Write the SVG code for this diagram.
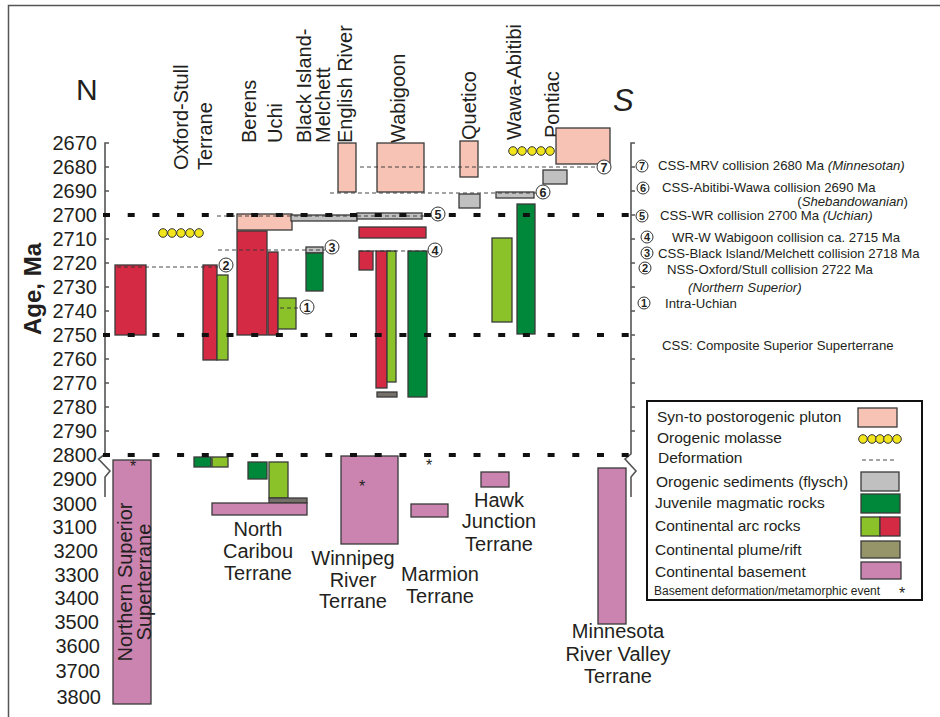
<svg xmlns="http://www.w3.org/2000/svg" width="940" height="717" viewBox="0 0 940 717">
<style>
text{font-family:"Liberation Sans",Arial,sans-serif;fill:#231f20}
.ax{fill:none;stroke:#555;stroke-width:1.6}
.tk{font-size:20px;text-anchor:end}
.lbl{font-size:20px}
.mid{text-anchor:middle}
.b{stroke:#3a3a3a;stroke-width:1.3}
.pl{fill:#F6C3B5}
.rd{fill:#D42A44}
.lg{fill:#8BC22A}
.dg{fill:#00883A}
.fl{fill:#C0C0C0}
.pr{fill:#76706B}
.bs{fill:#CB84AF}
.mo{fill:#F2E51C;stroke:#333;stroke-width:1}
.thick{stroke:#111;stroke-width:4;stroke-dasharray:7 17.7;fill:none}
.def{stroke:#333;stroke-width:0.9;stroke-dasharray:4 3;fill:none}
.cn{fill:#fff;stroke:#333;stroke-width:1}
.cnt{font-size:12.5px;font-weight:bold;text-anchor:middle}
.ann{font-size:13.2px}
.it{font-style:italic}
.leg{font-size:15.5px}
.star{font-size:16px;text-anchor:middle}
</style>

<g id="frame">
<path d="M8.5,717 V5.5 H940" fill="none" stroke="#555" stroke-width="1.5"/>
</g>

<g id="axes">
<path class="ax" d="M109,143 H105 V454 L98.5,459 L110,471 L105,477 V497"/>
<path class="ax" d="M105,167h4M105,191h4M105,215h4M105,239h4M105,263h4M105,287h4M105,311h4M105,335h4M105,359h4M105,383h4M105,407h4M105,431h4"/>
<path class="ax" stroke="#333" d="M635,143 H631 V454 L625,459 L636,471 L631,477 V497"/>
<path class="ax" stroke="#333" d="M631,167h4M631,191h4M631,215h4M631,239h4M631,263h4M631,287h4M631,311h4M631,335h4M631,359h4M631,383h4M631,407h4M631,431h4"/>
<text class="tk" x="97" y="150">2670</text>
<text class="tk" x="97" y="174">2680</text>
<text class="tk" x="97" y="198">2690</text>
<text class="tk" x="97" y="222">2700</text>
<text class="tk" x="97" y="246">2710</text>
<text class="tk" x="97" y="270">2720</text>
<text class="tk" x="97" y="294">2730</text>
<text class="tk" x="97" y="318">2740</text>
<text class="tk" x="97" y="342">2750</text>
<text class="tk" x="97" y="366">2760</text>
<text class="tk" x="97" y="390">2770</text>
<text class="tk" x="97" y="414">2780</text>
<text class="tk" x="97" y="438">2790</text>
<text class="tk" x="97" y="462">2800</text>
<text class="tk" x="97" y="486">2900</text>
<text class="tk" x="97" y="511">3000</text>
<text class="tk" x="97" y="534">3100</text>
<text class="tk" x="98" y="558">3200</text>
<text class="tk" x="99" y="582">3300</text>
<text class="tk" x="99" y="605">3400</text>
<text class="tk" x="99" y="629">3500</text>
<text class="tk" x="100" y="653">3600</text>
<text class="tk" x="100" y="678">3700</text>
<text class="tk" x="101" y="704">3800</text>
<text transform="translate(41,289) rotate(-90)" style="font-size:24px;font-weight:bold;text-anchor:middle">Age, Ma</text>
<text x="76" y="100" style="font-size:30px">N</text>
<text x="613" y="111" style="font-size:31px;font-style:italic">S</text>
</g>

<g id="column-labels" class="lbl">
<text transform="translate(188,170) rotate(-90)">Oxford-Stull</text>
<text transform="translate(212,170) rotate(-90)">Terrane</text>
<text transform="translate(256,143) rotate(-90)">Berens</text>
<text transform="translate(282,143) rotate(-90)">Uchi</text>
<text transform="translate(311,143) rotate(-90)">Black Island-</text>
<text transform="translate(330,143) rotate(-90)">Melchett</text>
<text transform="translate(352,143) rotate(-90)">English River</text>
<text transform="translate(405,143) rotate(-90)">Wabigoon</text>
<text transform="translate(476,140) rotate(-90)">Quetico</text>
<text transform="translate(521,140) rotate(-90)">Wawa-Abitibi</text>
<text transform="translate(559,138) rotate(-90)">Pontiac</text>
</g>

<g id="northern-superior">
<rect class="rd b" x="115" y="265" width="31" height="70"/>
<rect class="bs b" x="113" y="460" width="38" height="244"/>
<text class="star" x="133" y="472">*</text>
<text class="lbl mid" transform="translate(132,582) rotate(-90)">Northern Superior</text>
<text class="lbl mid" transform="translate(151,582) rotate(-90)">Superterrane</text>
</g>

<g id="oxford-stull">
<circle class="mo" cx="163" cy="233" r="4.3"/>
<circle class="mo" cx="172" cy="233" r="4.3"/>
<circle class="mo" cx="181" cy="233" r="4.3"/>
<circle class="mo" cx="190" cy="233" r="4.3"/>
<circle class="mo" cx="199" cy="233" r="4.3"/>
<rect class="rd b" x="203" y="265" width="14" height="95"/>
<rect class="lg b" x="217" y="275" width="11" height="85"/>
<rect class="dg b" x="194" y="457" width="17" height="10"/>
<rect class="lg b" x="212" y="457" width="16" height="10"/>
</g>

<g id="berens-uchi">
<rect class="pl b" x="237" y="214" width="55" height="16"/>
<rect class="rd b" x="237" y="231" width="30" height="104"/>
<rect class="rd b" x="268" y="252" width="10" height="83"/>
<rect class="lg b" x="278" y="298" width="18" height="31"/>
</g>

<g id="north-caribou">
<rect class="dg b" x="248" y="462" width="19" height="17"/>
<rect class="lg b" x="269" y="462" width="19" height="36"/>
<rect class="pr b" x="269" y="498" width="38" height="5"/>
<rect class="bs b" x="212" y="503" width="95" height="12"/>
<text class="lbl mid" x="258" y="536">North</text>
<text class="lbl mid" x="258" y="558">Caribou</text>
<text class="lbl mid" x="258" y="580">Terrane</text>
</g>

<g id="black-island-melchett">
<rect class="fl b" x="291" y="215" width="66" height="6"/>
<rect class="fl b" x="306" y="247" width="17" height="6"/>
<rect class="dg b" x="306" y="253" width="17" height="38"/>
</g>

<g id="english-river">
<rect class="pl b" x="338" y="143" width="18" height="49"/>
<rect class="fl b" x="357" y="213" width="65" height="6"/>
</g>

<g id="wabigoon">
<rect class="pl b" x="377" y="143" width="47" height="49"/>
<rect class="rd b" x="359" y="227" width="67" height="11"/>
<rect class="rd b" x="359" y="251" width="14" height="19"/>
<rect class="rd b" x="376" y="251" width="11" height="137"/>
<rect class="lg b" x="387" y="251" width="9" height="131"/>
<rect class="pr b" x="377" y="392" width="20" height="5"/>
<rect class="dg b" x="408" y="251" width="19" height="146"/>
</g>

<g id="winnipeg-river">
<rect class="bs b" x="341" y="456" width="57" height="88"/>
<text class="star" x="362" y="492">*</text>
<text class="lbl mid" x="353" y="565">Winnipeg</text>
<text class="lbl mid" x="353" y="587">River</text>
<text class="lbl mid" x="353" y="608">Terrane</text>
</g>

<g id="marmion">
<text class="star" x="429" y="471">*</text>
<rect class="bs b" x="411" y="504" width="37" height="13"/>
<text class="lbl mid" x="440" y="581">Marmion</text>
<text class="lbl mid" x="440" y="603">Terrane</text>
</g>

<g id="quetico">
<rect class="pl b" x="460" y="141" width="18" height="36"/>
<rect class="fl b" x="459" y="194" width="21" height="14"/>
</g>

<g id="wawa-abitibi">
<circle class="mo" cx="513" cy="151" r="4.3"/>
<circle class="mo" cx="522" cy="151" r="4.3"/>
<circle class="mo" cx="532" cy="151" r="4.3"/>
<circle class="mo" cx="541" cy="151" r="4.3"/>
<circle class="mo" cx="550" cy="151" r="4.3"/>
<rect class="fl b" x="496" y="192" width="38" height="6"/>
<rect class="lg b" x="492" y="238" width="20" height="84"/>
<rect class="dg b" x="517" y="204" width="18" height="130"/>
</g>

<g id="hawk-junction">
<rect class="bs b" x="481" y="472" width="28" height="15"/>
<text class="lbl mid" x="499" y="507">Hawk</text>
<text class="lbl mid" x="499" y="528">Junction</text>
<text class="lbl mid" x="499" y="551">Terrane</text>
</g>

<g id="pontiac">
<rect class="pl b" x="556" y="128" width="54" height="36"/>
<rect class="fl b" x="543" y="170" width="24" height="14"/>
</g>

<g id="minnesota-river-valley">
<rect class="bs b" x="598" y="468" width="28" height="156"/>
<text class="lbl mid" x="618" y="638">Minnesota</text>
<text class="lbl mid" x="618" y="661">River Valley</text>
<text class="lbl mid" x="618" y="683">Terrane</text>
</g>

<g id="connectors">
<path class="def" d="M117,267 H218"/>
<path class="def" d="M280,308 H300"/>
<path class="def" d="M218,250 H325"/>
<path class="def" d="M359,251 H428"/>
<path class="def" d="M217,216 H431"/>
<path class="def" d="M330,193 H536"/>
<path class="def" d="M360,167 H597"/>
<path class="thick" d="M103,215 H630"/>
<path class="thick" d="M103,335 H630"/>
<path class="thick" d="M103,455 H630"/>
</g>

<g id="event-markers">
<circle class="cn" cx="226" cy="265" r="7"/><text class="cnt" x="226" y="269.5">2</text>
<circle class="cn" cx="307" cy="307" r="7"/><text class="cnt" x="307" y="311.5">1</text>
<circle class="cn" cx="332" cy="247" r="7"/><text class="cnt" x="332" y="251.5">3</text>
<circle class="cn" cx="435" cy="250" r="7"/><text class="cnt" x="435" y="254.5">4</text>
<circle class="cn" cx="438" cy="214" r="7"/><text class="cnt" x="438" y="218.5">5</text>
<circle class="cn" cx="543" cy="192" r="7"/><text class="cnt" x="543" y="196.5">6</text>
<circle class="cn" cx="604" cy="167" r="7" stroke="#aaa"/><text class="cnt" x="604" y="171.5">7</text>
</g>

<g id="annotations">
<circle class="cn" cx="642" cy="166" r="6"/><text class="cnt" style="font-size:11px" x="642" y="170">7</text>
<text class="ann" x="658" y="170">CSS-MRV collision 2680 Ma <tspan class="it">(Minnesotan)</tspan></text>
<circle class="cn" cx="643" cy="188" r="6"/><text class="cnt" style="font-size:11px" x="643" y="192">6</text>
<text class="ann" x="662" y="192">CSS-Abitibi-Wawa collision 2690 Ma</text>
<text class="ann" x="908" y="206" text-anchor="end">(<tspan class="it">Shebandowanian</tspan>)</text>
<circle class="cn" cx="642" cy="216" r="6"/><text class="cnt" style="font-size:11px" x="642" y="220">5</text>
<text class="ann" x="660" y="220">CSS-WR collision 2700 Ma <tspan class="it">(Uchian)</tspan></text>
<circle class="cn" cx="647" cy="237" r="6"/><text class="cnt" style="font-size:11px" x="647" y="241">4</text>
<text class="ann" x="672" y="242">WR-W Wabigoon collision ca. 2715 Ma</text>
<circle class="cn" cx="647" cy="253" r="6"/><text class="cnt" style="font-size:11px" x="647" y="257">3</text>
<text class="ann" x="658" y="258">CSS-Black Island/Melchett collision 2718 Ma</text>
<circle class="cn" cx="645" cy="268" r="6"/><text class="cnt" style="font-size:11px" x="645" y="272">2</text>
<text class="ann" x="667" y="274">NSS-Oxford/Stull collision 2722 Ma</text>
<text class="ann it" x="688" y="292">(Northern Superior)</text>
<circle class="cn" cx="644" cy="303" r="6"/><text class="cnt" style="font-size:11px" x="644" y="307">1</text>
<text class="ann" x="665" y="308">Intra-Uchian</text>
<text class="ann" x="662" y="350">CSS: Composite Superior Superterrane</text>
</g>

<g id="legend">
<rect x="647" y="401" width="275" height="199" fill="#fff" stroke="#111" stroke-width="2"/>
<text class="leg" x="657" y="422">Syn-to postorogenic pluton</text>
<rect class="pl b" x="858" y="408" width="39" height="19"/>
<text class="leg" x="657" y="443">Orogenic molasse</text>
<circle class="mo" cx="863" cy="439" r="4.3"/>
<circle class="mo" cx="872" cy="439" r="4.3"/>
<circle class="mo" cx="880" cy="439" r="4.3"/>
<circle class="mo" cx="888" cy="439" r="4.3"/>
<circle class="mo" cx="897" cy="439" r="4.3"/>
<text class="leg" x="658" y="463">Deformation</text>
<path class="def" d="M862,460 H897" stroke-dasharray="3 2.5"/>
<text class="leg" x="656" y="487">Orogenic sediments (flysch)</text>
<rect class="fl b" x="861" y="472" width="38" height="19"/>
<text class="leg" x="655" y="508">Juvenile magmatic rocks</text>
<rect class="dg b" x="861" y="494" width="39" height="19"/>
<text class="leg" x="655" y="531">Continental arc rocks</text>
<rect class="lg b" x="861" y="517" width="19" height="19"/>
<rect class="rd b" x="880" y="517" width="20" height="19"/>
<text class="leg" x="655" y="555">Continental plume/rift</text>
<rect class="b" fill="#969469" x="861" y="541" width="39" height="17"/>
<text class="leg" x="655" y="577">Continental basement</text>
<rect class="bs b" x="861" y="562" width="40" height="17"/>
<text x="654" y="595" style="font-size:12px">Basement deformation/metamorphic event</text>
<text class="star" x="902" y="599">*</text>
</g>
</svg>
